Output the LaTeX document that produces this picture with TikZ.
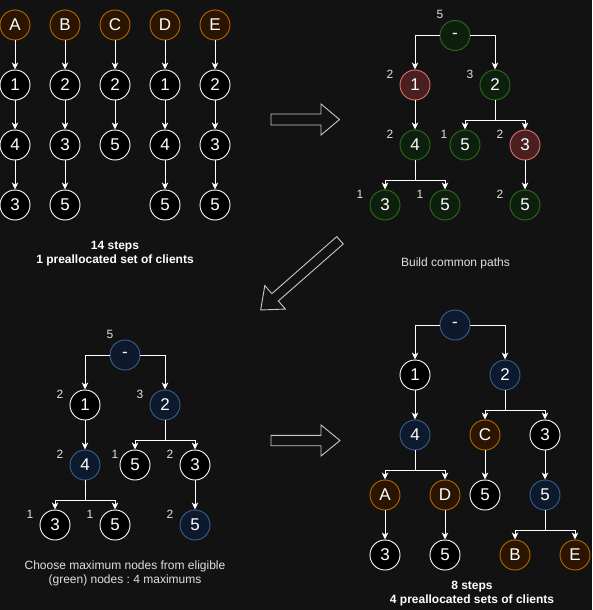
\documentclass[tikz,border=0pt]{standalone}
\usepackage{fontspec}
\setmainfont{Liberation Sans}
\usetikzlibrary{arrows.meta}
\frenchspacing
\definecolor{bg}{HTML}{121212}
\definecolor{brnF}{HTML}{2B1500}
\definecolor{brnS}{HTML}{B36B00}
\definecolor{grnF}{HTML}{0D200D}
\definecolor{grnS}{HTML}{2F6A1A}
\definecolor{redF}{HTML}{4A1F1F}
\definecolor{redS}{HTML}{E07070}
\definecolor{bluF}{HTML}{0D1A2E}
\definecolor{bluS}{HTML}{3A5F90}
\definecolor{txtC}{HTML}{E0E0E0}
\definecolor{arrC}{HTML}{C8C8C8}
\tikzset{
  base/.style={circle, minimum size=30pt, inner sep=0pt, line width=0.9pt, font=\fontsize{17}{20}\selectfont, text=white},
  nblk/.style={base, draw=white, fill=black},
  nbrn/.style={base, draw=brnS, fill=brnF},
  ngrn/.style={base, draw=grnS, fill=grnF},
  nred/.style={base, draw=redS, fill=redF},
  nblu/.style={base, draw=bluS, fill=bluF},
  lbl/.style={font=\fontsize{12}{14}\selectfont, text=txtC, inner sep=0pt},
  caption/.style={font=\fontsize{12}{14}\selectfont, text=txtC, align=center, inner sep=0pt},
  bcaption/.style={font=\bfseries\fontsize{12}{14}\selectfont, text=white, align=center, inner sep=0pt},
  arr/.style={draw=white, line width=0.9pt, -{Stealth[length=7pt,width=6.5pt,inset=2pt]}},
  barrow/.style={draw=arrC, line width=0.9pt, line join=miter}
}
\begin{document}
\begin{tikzpicture}[x=1pt,y=-1pt]
\fill[bg] (0,0) rectangle (592,610);
\useasboundingbox (0,0) rectangle (592,610);

% ---------- top-left: separate paths ----------
\node[nbrn] (A)  at (15,25) {A};
\node[nblk] (A1) at (15,85) {1};
\node[nblk] (A2) at (15,145) {4};
\node[nblk] (A3) at (15,205) {3};
\node[nbrn] (B)  at (65,25) {B};
\node[nblk] (B1) at (65,85) {2};
\node[nblk] (B2) at (65,145) {3};
\node[nblk] (B3) at (65,205) {5};
\node[nbrn] (C)  at (115,25) {C};
\node[nblk] (C1) at (115,85) {2};
\node[nblk] (C2) at (115,145) {5};
\node[nbrn] (D)  at (165,25) {D};
\node[nblk] (D1) at (165,85) {1};
\node[nblk] (D2) at (165,145) {4};
\node[nblk] (D3) at (165,205) {5};
\node[nbrn] (E)  at (215,25) {E};
\node[nblk] (E1) at (215,85) {2};
\node[nblk] (E2) at (215,145) {3};
\node[nblk] (E3) at (215,205) {5};
\foreach \p/\q in {A/A1,A1/A2,A2/A3,B/B1,B1/B2,B2/B3,C/C1,C1/C2,D/D1,D1/D2,D2/D3,E/E1,E1/E2,E2/E3}
  \draw[arr] (\p) -- (\q);
\node[bcaption] (capTL) at (115,253.5) {14 steps\\1 preallocated set of clients};

% ---------- top-right: common paths ----------
\node[ngrn] (t0) at (455,35.5) {-};
\node[nred] (t1) at (415,85) {1};
\node[ngrn] (t2) at (495,85) {2};
\node[ngrn] (t4) at (415,145) {4};
\node[ngrn] (t5) at (465,145) {5};
\node[nred] (t3) at (525,145) {3};
\node[ngrn] (t43) at (385,205) {3};
\node[ngrn] (t45) at (445,205) {5};
\node[ngrn] (t35) at (525,205) {5};
\draw[arr] (t0.west) -| (t1.north);
\draw[arr] (t0.east) -| (t2.north);
\draw[arr] (t1) -- (t4);
\draw[arr] (t2.south) -- ++(0,20) -| (t5.north);
\draw[arr] (t2.south) -- ++(0,20) -| (t3.north);
\draw[arr] (t4.south) -- ++(0,20) -| (t43.north);
\draw[arr] (t4.south) -- ++(0,20) -| (t45.north);
\draw[arr] (t3) -- (t35);
\node[lbl] (lt0) at (440,14) {5};
\node[lbl] (lt1) at (390,74) {2};
\node[lbl] (lt2) at (470,74) {3};
\node[lbl] (lt4) at (390,134) {2};
\node[lbl] (lt5) at (444,134) {1};
\node[lbl] (lt3) at (500,134) {2};
\node[lbl] (lt43) at (360,194) {1};
\node[lbl] (lt45) at (420,194) {1};
\node[lbl] (lt35) at (500,194) {2};
\node[caption] (capTR) at (455.5,263) {Build common paths};

% ---------- bottom-left: choose maximums ----------
\node[nblu] (m0) at (125,355) {-};
\node[nblk] (m1) at (85,405) {1};
\node[nblu] (m2) at (165,405) {2};
\node[nblu] (m4) at (85,465) {4};
\node[nblk] (m5) at (135,465) {5};
\node[nblk] (m3) at (195,465) {3};
\node[nblk] (m43) at (55,525) {3};
\node[nblk] (m45) at (115,525) {5};
\node[nblu] (m35) at (195,525) {5};
\draw[arr] (m0.west) -| (m1.north);
\draw[arr] (m0.east) -| (m2.north);
\draw[arr] (m1) -- (m4);
\draw[arr] (m2.south) -- ++(0,20) -| (m5.north);
\draw[arr] (m2.south) -- ++(0,20) -| (m3.north);
\draw[arr] (m4.south) -- ++(0,20) -| (m43.north);
\draw[arr] (m4.south) -- ++(0,20) -| (m45.north);
\draw[arr] (m3) -- (m35);
\node[lbl] (lm0) at (110,334) {5};
\node[lbl] (lm1) at (60,394) {2};
\node[lbl] (lm2) at (140,394) {3};
\node[lbl] (lm4) at (60,454.5) {2};
\node[lbl] (lm5) at (115,454) {1};
\node[lbl] (lm3) at (170,454) {2};
\node[lbl] (lm43) at (30,514) {1};
\node[lbl] (lm45) at (90,514) {1};
\node[lbl] (lm35) at (170,514) {2};
\node[caption] (capBL) at (125,573.7) {Choose maximum nodes from eligible\\(green) nodes : 4 maximums};

% ---------- bottom-right: final tree ----------
\node[nblu] (r0) at (455,325) {-};
\node[nblk] (r1) at (415,375) {1};
\node[nblu] (r2) at (505,375) {2};
\node[nblu] (r4) at (415,435) {4};
\node[nbrn] (rC) at (485,435) {C};
\node[nblk] (r3) at (545,435) {3};
\node[nbrn] (rA) at (385,495) {A};
\node[nbrn] (rD) at (445,495) {D};
\node[nblk] (rC5) at (485,495) {5};
\node[nblu] (r35) at (545,495) {5};
\node[nblk] (rA3) at (385,555) {3};
\node[nblk] (rD5) at (445,555) {5};
\node[nbrn] (rB) at (515,555) {B};
\node[nbrn] (rE) at (575,555) {E};
\draw[arr] (r0.west) -| (r1.north);
\draw[arr] (r0.east) -| (r2.north);
\draw[arr] (r1) -- (r4);
\draw[arr] (r2.south) -- ++(0,20) -| (rC.north);
\draw[arr] (r2.south) -- ++(0,20) -| (r3.north);
\draw[arr] (r4.south) -- ++(0,20) -| (rA.north);
\draw[arr] (r4.south) -- ++(0,20) -| (rD.north);
\draw[arr] (rC) -- (rC5);
\draw[arr] (r3) -- (r35);
\draw[arr] (rA) -- (rA3);
\draw[arr] (rD) -- (rD5);
\draw[arr] (r35.south) -- ++(0,20) -| (rB.north);
\draw[arr] (r35.south) -- ++(0,20) -| (rE.north);
\node[bcaption] (capBR) at (472,594) {8 steps\\4 preallocated sets of clients};

% ---------- block arrows ----------
\draw[barrow] (271,114) -- (321,114) -- (321,104) -- (339.5,119.5) -- (321,135) -- (321,125) -- (271,125) -- cycle;
\draw[barrow] (271,435.3) -- (321,435.3) -- (321,425) -- (340,440.5) -- (321,456) -- (321,445.7) -- (271,445.7) -- cycle;
\begin{scope}[shift={(340,240.3)}, rotate=221.3]
\draw[barrow] (0pt,4.9pt) -- (86.4pt,4.9pt) -- (86.4pt,15.6pt) -- (105.6pt,0pt) -- (86.4pt,-15.6pt) -- (86.4pt,-4.9pt) -- (0pt,-4.9pt) -- cycle;
\end{scope}
\end{tikzpicture}
\end{document}
